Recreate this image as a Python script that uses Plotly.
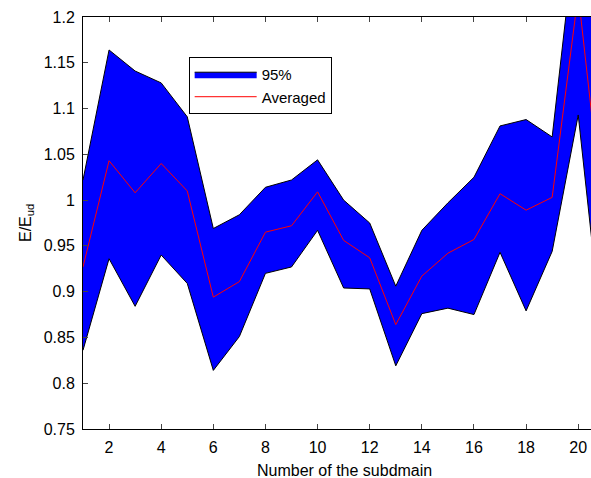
import plotly.graph_objects as go

subdomain = list(range(1, 22))
upper_95 = [1.022, 1.164, 1.141, 1.128, 1.091, 0.969, 0.984, 1.014, 1.022, 1.044,
            1.000, 0.975, 0.906, 0.967, 0.997, 1.025, 1.081, 1.088, 1.069, 1.320, 1.120]
lower_95 = [0.836, 0.936, 0.884, 0.940, 0.909, 0.814, 0.851, 0.920, 0.927, 0.967,
            0.904, 0.903, 0.819, 0.876, 0.882, 0.875, 0.943, 0.879, 0.944, 1.093, 0.830]
averaged = [0.927, 1.043, 1.008, 1.040, 1.010, 0.894, 0.911, 0.965, 0.972, 1.009,
            0.956, 0.937, 0.864, 0.917, 0.942, 0.957, 1.007, 0.989, 1.003, 1.225, 0.970]

x_ticks = list(range(2, 21, 2))
y_ticks = [0.75, 0.8, 0.85, 0.9, 0.95, 1.0, 1.05, 1.1, 1.15, 1.2]
y_tick_labels = ["0.75", "0.8", "0.85", "0.9", "0.95", "1", "1.05", "1.1", "1.15", "1.2"]

font_family = "Liberation Sans, Arial, Helvetica, sans-serif"

fig = go.Figure()
fig.add_trace(go.Scatter(x=subdomain, y=lower_95, mode="lines",
                         line=dict(color="black", width=1), showlegend=False,
                         hoverinfo="skip"))
fig.add_trace(go.Scatter(x=subdomain, y=upper_95, mode="lines", name="95%",
                         line=dict(color="black", width=1), fill="tonexty",
                         fillcolor="#0000FF"))
fig.add_trace(go.Scatter(x=subdomain, y=averaged, mode="lines", name="Averaged",
                         line=dict(color="#FF0000", width=1)))

fig.update_layout(
    width=591, height=478,
    margin=dict(l=83, r=0, t=17, b=49, autoexpand=False),
    paper_bgcolor="white", plot_bgcolor="white",
    font=dict(family=font_family, size=16, color="black"),
    showlegend=True,
    legend=dict(x=0.208, y=0.903, xanchor="left", yanchor="top",
                bordercolor="black", borderwidth=1, bgcolor="white",
                font=dict(size=15), traceorder="normal", tracegroupgap=0,
                itemwidth=62),
    xaxis=dict(range=[1, 20.49], tickvals=x_ticks, ticks="inside", ticklen=5,
               showline=True, linecolor="black", linewidth=1, mirror="ticks",
               showgrid=False, zeroline=False, layer="below traces",
               automargin=False, ticklabelstandoff=4),
    yaxis=dict(range=[0.75, 1.2], tickvals=y_ticks, ticktext=y_tick_labels,
               ticks="inside", ticklen=5, showline=True, linecolor="black",
               linewidth=1, showgrid=False, zeroline=False, automargin=False,
               ticklabelstandoff=4),
    annotations=[
        dict(text="Number of the subdmain", xref="paper", yref="paper",
             x=0.514, y=0, yshift=-41, xanchor="center", yanchor="middle",
             showarrow=False, font=dict(size=16)),
        dict(text="E/E<sub>ud</sub>", xref="paper", yref="paper",
             x=0, y=0.5, xshift=-57, xanchor="center", yanchor="middle",
             textangle=-90, showarrow=False, font=dict(size=16)),
    ],
)

fig.write_html("out.html", config={"displayModeBar": False},
               post_script="document.body.style.margin='0';")
